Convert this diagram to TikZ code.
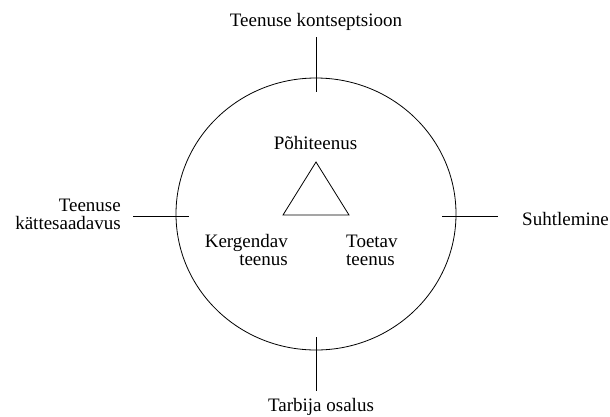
\documentclass[tikz,border=0pt]{standalone}
\usepackage{fontspec}
\setmainfont{Liberation Serif}
\usetikzlibrary{shapes.geometric}
\begin{document}
\begin{tikzpicture}[x=1pt,y=-1pt,
  lbl/.style={inner sep=0pt,font=\fontsize{19}{20}\selectfont,anchor=base},
  lblr/.style={lbl,anchor=base east,align=right},
  lbll/.style={lbl,anchor=base west,align=left},
  ln/.style={draw=black,line width=0.8pt}]
\useasboundingbox (0,0) rectangle (610,416);
% circle and triangle
\node[draw,ellipse,minimum width=280pt,minimum height=272pt,inner sep=0pt,line width=0.8pt] (circ) at (316,214) {};
\coordinate (ta) at (316,162);
\coordinate (tl) at (283,215);
\coordinate (tr) at (349,215);
\draw[ln] (ta) -- (tl) -- (tr) -- cycle;
% ticks
\coordinate (n1) at (316,37);  \coordinate (n2) at (316,92);
\coordinate (s1) at (316,337); \coordinate (s2) at (316,391);
\coordinate (w1) at (133,216); \coordinate (w2) at (189,216);
\coordinate (e1) at (442,216); \coordinate (e2) at (498,216);
\draw[ln] (n1) -- (n2);
\draw[ln] (s1) -- (s2);
\draw[ln] (w1) -- (w2);
\draw[ln] (e1) -- (e2);
% labels
\node[lbl] (top) at (316,26) {Teenuse kontseptsioon};
\node[lbl] (bot) at (321,411) {Tarbija osalus};
\node[lbl] (poh) at (315.5,149) {Põhiteenus};
\node[lbll] (suh) at (522,225) {Suhtlemine};
\node[lblr] (kat) at (121,229) {Teenuse\\[-2pt]kättesaadavus};
\node[lblr] (ker) at (288,265) {Kergendav\\[-2pt]teenus};
\node[lbll] (toe) at (346,265) {Toetav\\[-2pt]teenus};
\end{tikzpicture}
\end{document}
